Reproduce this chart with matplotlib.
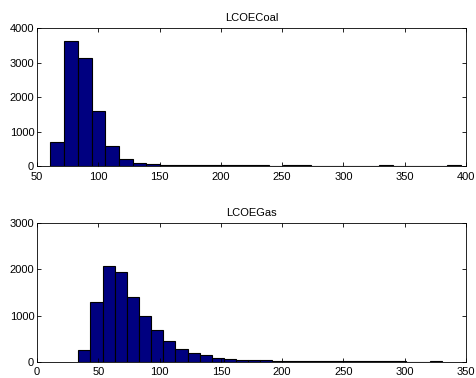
import numpy as np
import matplotlib.pyplot as plt

# Histogramas LCOE (30 classes cada)
coal_min, coal_max = 61.0, 396.0
coal_counts = [700, 3620, 3130, 1590, 590, 215, 100, 50, 30,
               25, 25, 22, 22, 20, 20, 20, 0, 20, 20, 0,
               0, 0, 0, 0, 20, 0, 0, 0, 0, 22]

gas_min, gas_max = 33.7, 330.7
gas_counts = [250, 1295, 2085, 1940, 1400, 1000, 680, 450, 275, 188,
              145, 88, 58, 36, 32, 30, 16, 15, 15, 15,
              15, 14, 14, 14, 14, 14, 14, 0, 0, 18]

fig = plt.figure(figsize=(4.77, 3.78), dpi=100)
plt.rcParams['font.family'] = ['Liberation Sans', 'DejaVu Sans']

panels = [
    ('LCOECoal', coal_min, coal_max, coal_counts, (50, 400), (0, 4000),
     [0.0776, 0.5608, 0.8994, 0.365]),
    ('LCOEGas', gas_min, gas_max, gas_counts, (0, 350), (0, 3000),
     [0.0776, 0.0431, 0.8994, 0.366]),
]

for title, lo, hi, counts, xlim, ylim, pos in panels:
    ax = fig.add_axes(pos)
    edges = np.linspace(lo, hi, len(counts) + 1)
    ax.bar(edges[:-1], counts, width=np.diff(edges), align='edge',
           color='#000080', edgecolor='black', linewidth=0.8)
    ax.set_xlim(*xlim)
    ax.set_ylim(*ylim)
    ax.set_xticks(np.arange(xlim[0], xlim[1] + 1, 50))
    ax.set_yticks(np.arange(ylim[0], ylim[1] + 1, 1000))
    ax.set_title(title, fontsize=8, pad=5)
    ax.tick_params(direction='in', top=True, right=True, labelsize=8,
                   length=3, width=0.6, pad=2)
    ax.tick_params(axis='x', pad=4)
    for s in ax.spines.values():
        s.set_linewidth(0.6)

plt.savefig('out.png', dpi=100)
